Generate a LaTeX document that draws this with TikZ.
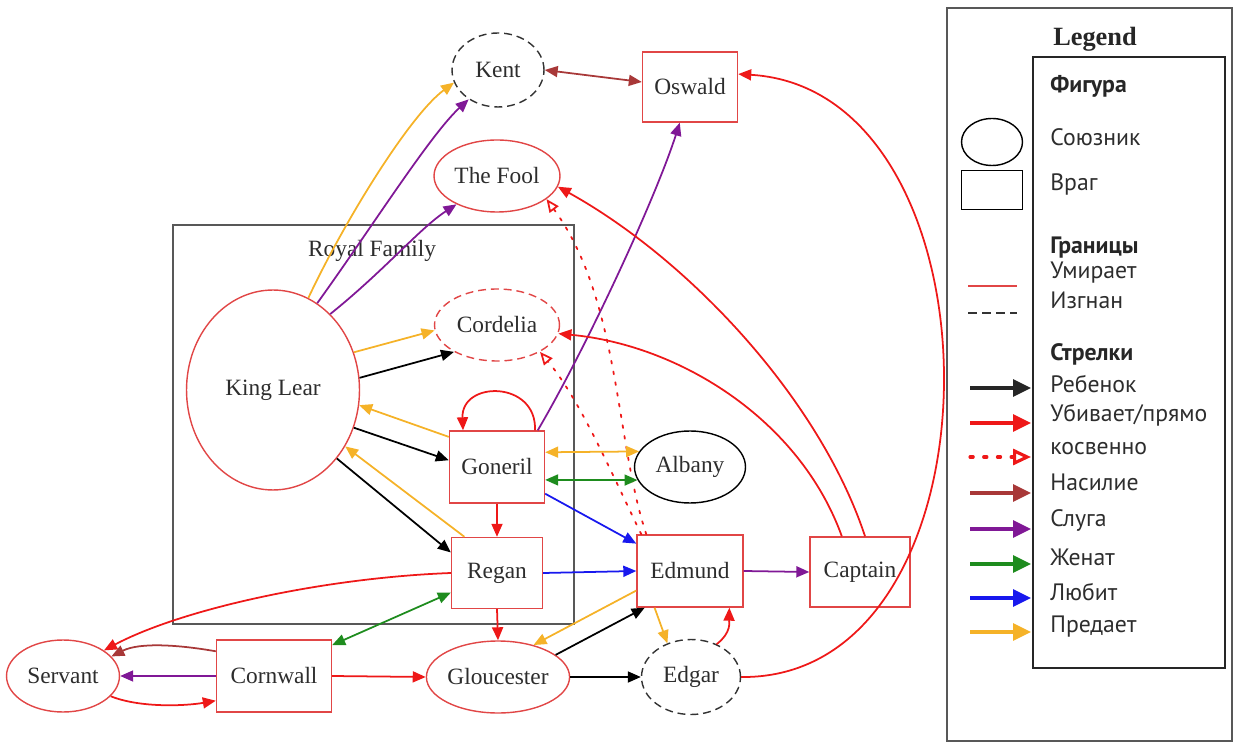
\documentclass[tikz,border=0pt]{standalone}
\usepackage{fontspec}
\setmainfont{Liberation Serif}
\newfontfamily\legfont{PT Sans}
\usetikzlibrary{arrows.meta,shapes.geometric,calc}
\definecolor{nred}{RGB}{225,70,70}
\definecolor{ered}{RGB}{238,24,24}
\definecolor{ylw}{RGB}{245,178,40}
\definecolor{prp}{RGB}{128,24,150}
\definecolor{grn}{RGB}{30,140,30}
\definecolor{blu}{RGB}{24,24,238}
\definecolor{brn}{RGB}{168,56,56}
\definecolor{gbox}{RGB}{88,88,88}
\definecolor{txt}{RGB}{45,45,45}
\begin{document}
\begin{tikzpicture}[x=0.02cm,y=-0.02cm,
  >={Triangle[length=2.6mm,width=2.2mm]},
  every node/.style={font=\fontsize{13.3}{15}\selectfont, text=txt},
  ell/.style={ellipse, draw=nred, line width=0.8pt, inner sep=0pt},
  box/.style={rectangle, draw=nred, line width=0.8pt, inner sep=0pt},
  exiled/.style={dash pattern=on 4.5pt off 2.8pt},
  ed/.style={line width=1pt},
  kill/.style={ed, draw=ered, ->},
  betray/.style={ed, draw=ylw, ->},
  serve/.style={ed, draw=prp, ->},
  wed/.style={ed, draw=grn, <->},
  love/.style={ed, draw=blu, ->},
  child/.style={ed, draw=black, ->},
  violent/.style={ed, draw=brn, ->},
  indirect/.style={ed, draw=ered, dash pattern=on 1.6pt off 4.6pt, line cap=round, -{Triangle[open,length=2.6mm,width=2.2mm]}},
  legtxt/.style={font=\legfont\fontsize{13.5}{15}\selectfont, text=txt, anchor=west, inner sep=0pt},
  leghd/.style={font=\legfont\bfseries\fontsize{13.5}{15}\selectfont, text=black!85, anchor=west, inner sep=0pt},
  legarr/.style={line width=1.8pt, -{Triangle[length=3.6mm,width=3.4mm]}}
]
\useasboundingbox (0,0) rectangle (1236,742);

% Royal family cluster
\draw[gbox, line width=1.4pt] (173,225) rectangle (574,624);
\node (rf) at (372,251) {Royal Family};

% nodes
\node[ell, draw=black!80, exiled, minimum width=1.84cm, minimum height=1.48cm] (kent) at (498,70) {Kent};
\node[box, minimum width=1.9cm, minimum height=1.4cm] (oswald) at (690,87) {Oswald};
\node[ell, minimum width=2.52cm, minimum height=1.44cm] (fool) at (497,176) {The Fool};
\node[ell, minimum width=3.46cm, minimum height=4.0cm] (lear) at (273,390) {King Lear};
\node[ell, exiled, minimum width=2.5cm, minimum height=1.44cm] (cord) at (497,325) {Cordelia};
\node[box, minimum width=1.9cm, minimum height=1.44cm] (goneril) at (497,467) {Goneril};
\node[ell, draw=black, minimum width=2.22cm, minimum height=1.44cm] (albany) at (690,467) {Albany};
\node[box, minimum width=1.82cm, minimum height=1.42cm] (regan) at (497,573) {Regan};
\node[box, minimum width=2.12cm, minimum height=1.44cm] (edmund) at (690,571) {Edmund};
\node[box, minimum width=2.0cm, minimum height=1.4cm] (captain) at (860,572) {Captain};
\node[ell, minimum width=2.26cm, minimum height=1.44cm] (servant) at (63,676) {Servant};
\node[box, minimum width=2.3cm, minimum height=1.44cm] (cornwall) at (274,676) {Cornwall};
\node[ell, minimum width=2.86cm, minimum height=1.44cm] (glou) at (498,677) {Gloucester};
\node[ell, draw=black!80, exiled, minimum width=1.98cm, minimum height=1.5cm] (edgar) at (691,677) {Edgar};

% edges from King Lear
\draw[betray] (lear.69) .. controls (345,220) and (410,115) .. (kent.196);
\draw[serve] (lear.63) .. controls (370,230) and (430,135) .. (kent.225);
\draw[serve] (lear.53) .. controls (385,270) and (420,228) .. (fool.215);
\draw[betray] (lear.25) -- (cord.185);
\draw[child] (lear.8) -- (cord.212);
\draw[betray] (goneril.148) -- (lear.-10);
\draw[child] (lear.-25) -- (goneril.172);
\draw[betray] (regan.132) -- (lear.-38);
\draw[child] (lear.-47) -- (regan.156);

% Kent / Oswald
\draw[ed, draw=brn, <->] (kent.east) -- ($(oswald.west)+(0,-5)$);
\draw[serve] (goneril.42) .. controls (585,350) and (655,200) .. (oswald.254);

% Captain kills
\draw[kill] (captain.82) .. controls (820,400) and (690,260) .. (fool.-10);
\draw[kill] (captain.117) .. controls (800,420) and (680,345) .. (cord.-8);

% Edgar kills Oswald
\draw[kill] (edgar.east) .. controls (1010,680) and (1010,90) .. (oswald.15);

% indirect (dotted)
\draw[indirect] (edmund.140) .. controls (615,440) and (620,300) .. (fool.-25);
\draw[indirect] (edmund.143) .. controls (610,470) and (580,400) .. (cord.-32);

% Goneril
\draw[kill] ($(goneril.north)+(38,0)$) .. controls ($(goneril.north)+(40,-50)$) and ($(goneril.north)+(-36,-50)$) .. ($(goneril.north)+(-34,0)$);
\draw[ed, draw=ylw, <->] (goneril.17) -- (albany.163);
\draw[wed] (goneril.-15) -- (albany.194);
\draw[love] (goneril.-29) -- (edmund.153);
\draw[kill] (goneril.south) -- (regan.north);

% Regan
\draw[love] (regan.east) -- (edmund.west);
\draw[kill] (regan.west) .. controls (320,578) and (180,610) .. (servant.32);
\draw[wed] (regan.203) -- (cornwall.28);
\draw[kill] (regan.south) -- (glou.north);

% Edmund / Gloucester / Edgar
\draw[betray] (edmund.200) -- (glou.42);
\draw[child] (glou.21) -- (edmund.219);
\draw[betray] (edmund.226) -- (edgar.125);
\draw[kill] (edgar.52) .. controls (732,632) and (729,622) .. (edmund.-43);
\draw[child] (glou.east) -- (edgar.west);
\draw[serve] (edmund.east) -- (captain.west);

% Cornwall / Servant
\draw[violent] (cornwall.157) .. controls (180,645) and (140,642) .. (servant.22);
\draw[serve] (cornwall.west) -- (servant.east);
\draw[kill] (servant.-23) .. controls (140,708) and (185,706) .. (cornwall.203);
\draw[kill] (cornwall.east) -- (glou.west);

% Legend
\draw[gbox, line width=1.4pt] (947,8) rectangle (1232,741);
\node[font=\bfseries\fontsize{15}{17}\selectfont, text=black!85] (legtitle) at (1095,39) {Legend};
\draw[black!85, line width=0.8pt] (1033,57) rectangle (1225,668);
\node[draw=black, ellipse, line width=0.8pt, minimum width=1.22cm, minimum height=0.94cm, inner sep=0pt] (lell) at (992,142) {};
\node[draw=black, rectangle, line width=0.8pt, minimum width=1.22cm, minimum height=0.78cm, inner sep=0pt] (lbox) at (992,190) {};
\node[leghd] (l1) at (1050,86) {Фигура};
\node[legtxt] (l2) at (1050,137) {Союзник};
\node[legtxt] (l3) at (1050,184) {Враг};
\node[leghd] (l4) at (1050,248) {Границы};
\node[legtxt] (l5) at (1050,273) {Умирает};
\node[legtxt] (l6) at (1050,300) {Изгнан};
\node[leghd] (l7) at (1050,354) {Стрелки};
\node[legtxt] (l8) at (1050,384) {Ребенок};
\node[legtxt] (l9) at (1050,415) {Убивает/прямо};
\node[legtxt] (l10) at (1050,449) {косвенно};
\node[legtxt] (l11) at (1050,482) {Насилие};
\node[legtxt] (l12) at (1050,520) {Слуга};
\node[legtxt] (l13) at (1050,557) {Женат};
\node[legtxt] (l14) at (1050,592) {Любит};
\node[legtxt] (l15) at (1050,627) {Предает};
\draw[nred, line width=1pt] (968,286) -- (1017,286);
\draw[black!80, line width=1.4pt, dash pattern=on 5pt off 3pt] (968,313) -- (1017,313);
\draw[legarr, draw=black!85] (970,388) -- (1031,388);
\draw[legarr, draw=ered] (970,423) -- (1031,423);
\draw[line width=1.8pt, draw=ered, dash pattern=on 1.8pt off 6pt, line cap=round, -{Triangle[open,length=3.6mm,width=3.2mm]}] (970,457) -- (1031,457);
\draw[legarr, draw=brn] (970,493) -- (1031,493);
\draw[legarr, draw=prp] (970,529) -- (1031,529);
\draw[legarr, draw=grn] (970,564) -- (1031,564);
\draw[legarr, draw=blu] (970,598) -- (1031,598);
\draw[legarr, draw=ylw] (970,632) -- (1031,632);
\end{tikzpicture}
\end{document}
